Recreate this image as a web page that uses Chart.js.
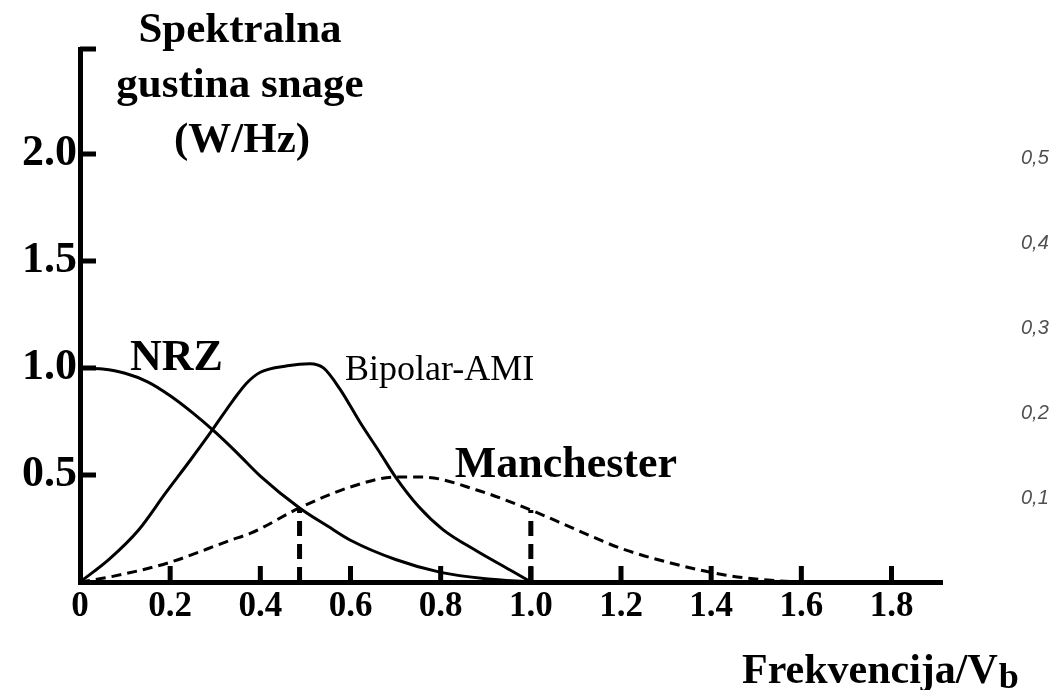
<!DOCTYPE html>
<html>
<head>
<meta charset="utf-8">
<title>Spektralna gustina snage</title>
<script src="https://cdn.jsdelivr.net/npm/chart.js@4/dist/chart.umd.min.js"></script>
<style>
	html, body { margin: 0; padding: 0; background: #ffffff; }
	#wrap { width: 1052px; height: 690px; }
</style>
</head>
<body>
<div id="wrap"><canvas id="chartPreview" width="1052" height="690"></canvas></div>
<script>
'use strict';

// frekvencija / Vb
const nrzX = [0, 0.05, 0.1, 0.15, 0.2, 0.25, 0.3, 0.35, 0.4, 0.487, 0.55, 0.6, 0.7, 0.8, 0.9, 1.0];
const nrzY = [1.0, 0.995, 0.975, 0.935, 0.87, 0.79, 0.70, 0.60, 0.495, 0.346, 0.26, 0.195, 0.105, 0.045, 0.015, 0];

const amiX = [0, 0.065, 0.13, 0.19, 0.245, 0.29, 0.34, 0.37, 0.40, 0.46, 0.51, 0.54, 0.577, 0.62, 0.665, 0.70, 0.75, 0.805, 0.88, 0.955, 1.0];
const amiY = [0, 0.107, 0.243, 0.416, 0.57, 0.70, 0.85, 0.93, 0.98, 1.01, 1.02, 1.0, 0.90, 0.75, 0.605, 0.49, 0.355, 0.245, 0.145, 0.055, 0];

const manX = [0, 0.065, 0.195, 0.335, 0.38, 0.487, 0.60, 0.70, 0.76, 0.88, 1.0, 1.1, 1.2, 1.31, 1.43, 1.55, 1.6];
const manY = [0, 0.023, 0.089, 0.196, 0.229, 0.346, 0.444, 0.49, 0.49, 0.43, 0.336, 0.245, 0.157, 0.089, 0.033, 0.005, 0];

// isprekidane vertikale
const markX = [0.487, 1.0];
const markY = [0.346, 0.336];

const xTickValues = [0, 0.2, 0.4, 0.6, 0.8, 1.0, 1.2, 1.4, 1.6, 1.8];
const yTickValues = [0, 0.5, 1.0, 1.5, 2.0];
const sideLabels = ['0,5', '0,4', '0,3', '0,2', '0,1'];

const X_MAX = 1.912;
const Y_MAX = 2.49;
const SERIF = "'Liberation Serif', 'Times New Roman', serif";

const toPoints = function (xs, ys) {
	return xs.map((x, i) => ({ x: x, y: ys[i] }));
};

const axisMarks = {
	id: 'axisMarks',
	afterDraw(chart) {
		const ctx = chart.ctx;
		const sx = chart.scales.x;
		const sy = chart.scales.y;
		const area = chart.chartArea;

		ctx.save();
		ctx.strokeStyle = '#000000';
		ctx.lineWidth = 5;
		ctx.beginPath();
		sx.ticks.forEach(t => {
			if (t.value === 0) return;
			const px = sx.getPixelForValue(t.value);
			ctx.moveTo(px, area.bottom);
			ctx.lineTo(px, area.bottom - 16);
		});
		sy.ticks.forEach(t => {
			if (t.value === 0) return;
			const py = sy.getPixelForValue(t.value);
			ctx.moveTo(area.left, py);
			ctx.lineTo(area.left + 16, py);
		});
		ctx.stroke();

		// natpisi krivih
		ctx.fillStyle = '#000000';
		ctx.textBaseline = 'alphabetic';
		ctx.textAlign = 'left';
		ctx.font = 'bold 44px ' + SERIF;
		ctx.fillText('NRZ', sx.getPixelForValue(0.111), sy.getPixelForValue(0.99));
		ctx.fillText('Manchester', sx.getPixelForValue(0.831), sy.getPixelForValue(0.49));
		ctx.font = '36px ' + SERIF;
		ctx.fillText('Bipolar-AMI', sx.getPixelForValue(0.588), sy.getPixelForValue(0.944));

		// naslov y ose
		ctx.textAlign = 'center';
		ctx.font = 'bold 43px ' + SERIF;
		ctx.fillText('Spektralna', 240, 42);
		ctx.fillText('gustina snage', 240, 97);
		ctx.fillText('(W/Hz)', 242, 152);

		// naslov x ose
		ctx.textAlign = 'left';
		ctx.font = 'bold 42px ' + SERIF;
		const main = 'Frekvencija/V';
		ctx.fillText(main, 742, 683);
		const w = ctx.measureText(main).width;
		ctx.font = 'bold 36px ' + SERIF;
		ctx.fillText('b', 742 + w + 1, 688);

		// ostaci sa desne strane
		ctx.fillStyle = '#505050';
		ctx.font = 'italic 20px "Liberation Sans", sans-serif';
		ctx.textBaseline = 'middle';
		sideLabels.forEach((s, i) => {
			ctx.fillText(s, 1021, 158 + i * 85);
		});
		ctx.restore();
	}
};

const handleInitialChart = function () {
	const canvas = document.getElementById('chartPreview');
	const ctx = canvas.getContext('2d');

	new Chart(ctx, {
		type: 'line',
		data: {
			datasets: [
				{
					label: 'NRZ',
					data: toPoints(nrzX, nrzY),
					borderColor: '#000000',
					borderWidth: 3,
					pointRadius: 0,
					cubicInterpolationMode: 'monotone'
				},
				{
					label: 'Bipolar-AMI',
					data: toPoints(amiX, amiY),
					borderColor: '#000000',
					borderWidth: 3,
					pointRadius: 0,
					cubicInterpolationMode: 'monotone'
				},
				{
					label: 'Manchester',
					data: toPoints(manX, manY),
					borderColor: '#000000',
					borderWidth: 3,
					borderDash: [10, 6],
					pointRadius: 0,
					cubicInterpolationMode: 'monotone'
				},
				{
					label: 'mark1',
					data: [{ x: markX[0], y: 0 }, { x: markX[0], y: markY[0] }],
					borderColor: '#000000',
					borderWidth: 5,
					borderDash: [15, 8],
					pointRadius: 0
				},
				{
					label: 'mark2',
					data: [{ x: markX[1], y: 0 }, { x: markX[1], y: markY[1] }],
					borderColor: '#000000',
					borderWidth: 5,
					borderDash: [15, 8],
					pointRadius: 0
				}
			]
		},
		options: {
			responsive: false,
			animation: false,
			devicePixelRatio: 1,
			layout: {
				padding: { top: 49, right: 110, left: 0, bottom: 0 }
			},
			plugins: {
				legend: { display: false },
				tooltip: { enabled: false }
			},
			scales: {
				x: {
					type: 'linear',
					min: 0,
					max: X_MAX,
					afterBuildTicks: s => { s.ticks = xTickValues.map(v => ({ value: v })); },
					afterFit: s => { s.height = 108; },
					grid: { display: false, drawTicks: false },
					border: { display: true, color: '#000000', width: 5 },
					ticks: {
						color: '#000000',
						padding: 4,
						autoSkip: false,
						maxRotation: 0,
						font: { family: SERIF, size: 35, weight: 'bold' },
						callback: v => (v === 0 ? '0' : v.toFixed(1))
					}
				},
				y: {
					type: 'linear',
					min: 0,
					max: Y_MAX,
					afterBuildTicks: s => { s.ticks = yTickValues.concat([Y_MAX]).map(v => ({ value: v })); },
					afterFit: s => { s.width = 80; },
					grid: { display: false, drawTicks: false },
					border: { display: true, color: '#000000', width: 5 },
					ticks: {
						color: '#000000',
						padding: 3,
						autoSkip: false,
						font: { family: SERIF, size: 44, weight: 'bold' },
						callback: v => (v === 0 || v === Y_MAX ? '' : v.toFixed(1))
					}
				}
			}
		},
		plugins: [axisMarks]
	});
};

handleInitialChart();
</script>
</body>
</html>
